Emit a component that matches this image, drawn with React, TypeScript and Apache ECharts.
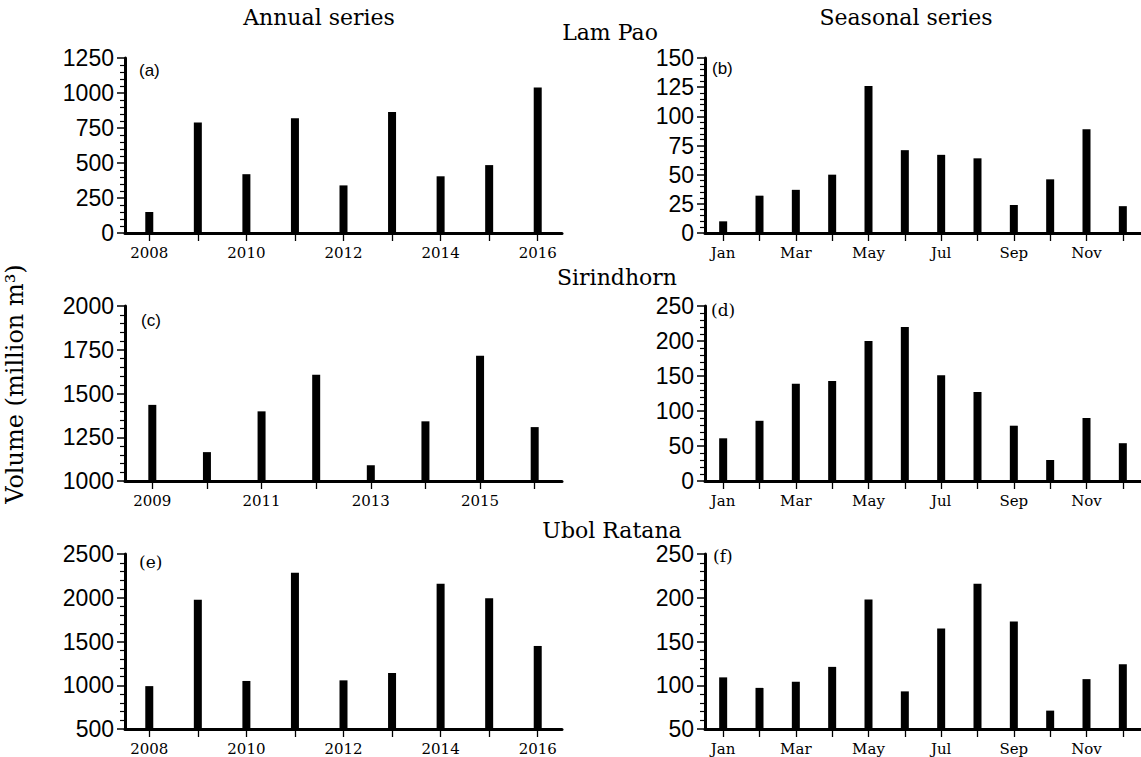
import React, { useEffect, useRef } from "react";
import * as echarts from "echarts";

const yearsA = ["2008", "2009", "2010", "2011", "2012", "2013", "2014", "2015", "2016"];
const yearsSirindhorn = ["2009", "2010", "2011", "2012", "2013", "2014", "2015", "2016"];
const months = ["Jan", "Feb", "Mar", "Apr", "May", "Jun", "Jul", "Aug", "Sep", "Oct", "Nov", "Dec"];

const lamPaoAnnual = [150, 790, 420, 820, 340, 865, 405, 485, 1040];
const lamPaoSeasonal = [10, 32, 37, 50, 126, 71, 67, 64, 24, 46, 89, 23];
const sirindhornAnnual = [1435, 1165, 1398, 1607, 1090, 1341, 1716, 1308];
const sirindhornSeasonal = [61, 86, 139, 143, 200, 220, 151, 127, 79, 30, 90, 54];
const ubolAnnual = [990, 1978, 1049, 2287, 1056, 1140, 2161, 1993, 1449];
const ubolSeasonal = [109, 97, 104, 121, 198, 93, 165, 216, 173, 71, 107, 124];

const SERIF = "'DejaVu Serif', serif";
const SANS = "'Liberation Sans', Arial, sans-serif";

const panels = [
  { cats: yearsA, data: lamPaoAnnual, min: 0, max: 1250, interval: 250, left: 125, top: 58 },
  { cats: months, data: lamPaoSeasonal, min: 0, max: 150, interval: 25, left: 705, top: 58 },
  { cats: yearsSirindhorn, data: sirindhornAnnual, min: 1000, max: 2000, interval: 250, left: 125, top: 306 },
  { cats: months, data: sirindhornSeasonal, min: 0, max: 250, interval: 50, left: 705, top: 306 },
  { cats: yearsA, data: ubolAnnual, min: 500, max: 2500, interval: 500, left: 125, top: 554 },
  { cats: months, data: ubolSeasonal, min: 50, max: 250, interval: 50, left: 705, top: 554 },
];

const panelLabels = [
  { text: "(a)", x: 139, y: 70, font: SANS },
  { text: "(b)", x: 712, y: 68, font: SANS },
  { text: "(c)", x: 141, y: 320, font: SANS },
  { text: "(d)", x: 711, y: 310, font: SERIF },
  { text: "(e)", x: 139, y: 562, font: SERIF },
  { text: "(f)", x: 713, y: 556, font: SERIF },
];

const titles = [
  { text: "Annual series", x: 319, y: 17 },
  { text: "Seasonal series", x: 906, y: 17 },
  { text: "Lam Pao", x: 610, y: 32 },
  { text: "Sirindhorn", x: 617, y: 277 },
  { text: "Ubol Ratana", x: 612, y: 530 },
];

export default function App() {
  const ref = useRef<HTMLDivElement>(null);
  useEffect(() => {
    if (!ref.current) return;
    const chart = echarts.init(ref.current, null, { renderer: "svg" });
    const lineStyle = { color: "#000", width: 3 };
    const option: any = {
      animation: false,
      backgroundColor: "#fff",
      grid: panels.map((p) => ({ left: p.left, top: p.top, width: 437, height: 175, containLabel: false })),
      xAxis: panels.map((p, i) => ({
        type: "category",
        gridIndex: i,
        data: p.cats,
        boundaryGap: true,
        axisLine: { show: true, onZero: false, lineStyle },
        axisTick: { show: true, alignWithLabel: true, interval: 0, length: 8, lineStyle: { color: "#000", width: 1.3 } },
        axisLabel: { interval: 1, color: "#000", fontFamily: SERIF, fontSize: 15, margin: 12 },
        splitLine: { show: false },
      })),
      yAxis: panels.map((p, i) => ({
        type: "value",
        gridIndex: i,
        min: p.min,
        max: p.max,
        interval: p.interval,
        axisLine: { show: true, lineStyle },
        axisTick: { show: true, length: 8, lineStyle: { color: "#000", width: 1.5 } },
        minorTick: { show: true, splitNumber: 5, length: 5, lineStyle: { color: "#000", width: 1.2 } },
        axisLabel: {
          color: "#000",
          fontFamily: SANS,
          fontSize: 23,
          margin: 11,
          formatter: (v: number) => String(v),
        },
        splitLine: { show: false },
        minorSplitLine: { show: false },
      })),
      series: panels.map((p, i) => ({
        type: "bar",
        xAxisIndex: i,
        yAxisIndex: i,
        data: p.data,
        barWidth: 8,
        itemStyle: { color: "#000" },
        clip: true,
      })),
      graphic: [
        ...titles.map((t) => ({
          type: "text",
          x: t.x,
          y: t.y,
          style: { text: t.text, fontFamily: SERIF, fontSize: 22, fill: "#000", textAlign: "center", textVerticalAlign: "middle" },
        })),
        ...panelLabels.map((t) => ({
          type: "text",
          x: t.x,
          y: t.y,
          style: { text: t.text, fontFamily: t.font, fontSize: 17, fill: "#000", textAlign: "left", textVerticalAlign: "middle" },
        })),
        {
          type: "text",
          x: 15,
          y: 384,
          rotation: Math.PI / 2,
          style: {
            text: "Volume (million m³)",
            fontFamily: SERIF,
            fontSize: 24,
            fill: "#000",
            textAlign: "center",
            textVerticalAlign: "middle",
          },
        },
      ],
    };
    chart.setOption(option);
    return () => chart.dispose();
  }, []);
  return (
    <div
      ref={ref}
      style={{ position: "absolute", left: 0, top: 0, width: 1141, height: 757, background: "#fff" }}
    />
  );
}
